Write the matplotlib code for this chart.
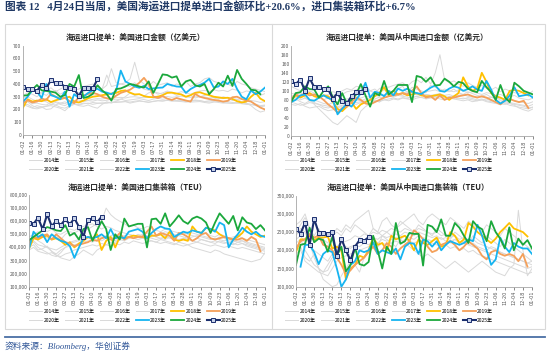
import numpy as np
import matplotlib
matplotlib.use("Agg")
import matplotlib.pyplot as plt
from matplotlib.lines import Line2D
from matplotlib.patches import Rectangle
import matplotlib.ticker as mticker

plt.rcParams['font.family'] = ['Noto Sans CJK SC', 'DejaVu Sans']
nan = np.nan

years = ["2014年", "2015年", "2016年", "2017年", "2018年", "2019年",
         "2020年", "2021年", "2022年", "2023年", "2024年", "2025年"]
xlabels = ["01-02", "01-16", "01-30", "02-13", "02-27", "03-13", "03-27", "04-10", "04-24",
           "05-08", "05-22", "06-05", "06-19", "07-03", "07-17", "07-31", "08-14", "08-28",
           "09-11", "09-25", "10-09", "10-23", "11-06", "11-20", "12-04", "12-18", "01-01"]

# ---------------- Panel 1: US import value (亿美元) ----------------
p1_2014 = [235,240,215,230,220,225,240,235,218,210, 230,245,240,250,245,255,250,248,252,258,
           255,260,262,258,265,270,262,255,265,270, 268,272,265,268,270,262,258,260,262,255,
           250,258,262,255,250,248,252,245,240,238, 242,230,235]
p1_2015 = [250,260,230,215,220,200,205,235,250,260, 245,270,255,262,270,265,275,268,272,280,
           275,282,270,275,280,285,278,270,282,288, 280,285,275,270,280,272,268,275,270,262,
           268,272,265,258,262,255,250,258,245,240, 235,225,230]
p1_2016 = [240,225,210,205,215,225,230,220,210,190, 225,240,235,245,250,240,248,252,250,255,
           260,258,262,250,258,265,262,258,262,268, 265,272,270,265,262,258,265,270,268,262,
           258,262,255,250,252,248,255,250,245,240, 230,220,228]
p1_2017 = [255,270,245,250,240,235,255,262,250,245, 265,270,275,268,272,280,285,282,290,288,
           292,295,290,298,300,295,292,298,300,305, 298,302,295,300,305,298,295,300,302,298,
           290,295,288,285,292,285,280,282,278,270, 265,255,262]
p1_2018 = [215,280,262,270,265,280,258,272,282,290, 300,262,255,270,288,300,305,312,318,325,
           330,345,350,332,318,320,305,298,296,300, 312,330,332,325,318,300,312,330,335,322,
           312,300,295,290,292,282,265,255,262,300, 330,285,265]
p1_2019 = [250,272,255,262,285,275,322,300,285,292, 265,250,298,310,322,330,320,300,288,280,
           308,330,342,355,380,410,448,400,302,290, 305,285,275,290,280,270,262,322,300,290,
           282,275,270,262,268,296,300,282,270,262, 238,215,200]
p1_2020 = [290,300,280,265,270,260,240,255,240,230, 250,245,230,225,235,220,210,240,260,250,
           265,280,300,330,310,320,305,330,340,320, 330,345,335,325,340,330,320,335,345,350,
           340,355,345,350,340,360,350,330,345,340, 320,310,325]
p1_2021 = [310,330,320,300,330,310,340,350,320,340, 360,350,330,340,355,370,380,360,470,380,
           390,400,410,440,570,430,400,380,420,390, 400,410,380,400,390,420,380,400,410,440,
           450,420,410,390,400,380,420,400,390,370, 360,350,340]
p1_2022 = [350,370,360,340,330,350,370,340,360,380, 370,350,360,380,390,400,380,360,390,520,
           410,400,390,380,410,380,360,350,340,330, 320,340,330,310,320,300,310,290,300,310,
           320,290,280,300,290,270,280,260,250,230, 200,180,190]
p1_2023 = [262,300,350,340,290,400,312,300,280,340, 222,320,290,300,330,350,362,340,332,320,
           345,505,420,400,380,370,385,360,365,370, 372,400,390,380,378,330,360,380,392,410,
           440,372,380,420,400,440,360,300,280,350, 320,340,372]
p1_2024 = [308,312,355,392,350,345,340,332,300,312, 400,380,470,290,300,322,390,350,320,270,
           360,365,380,400,392,380,372,420,330,400, 475,470,450,460,380,420,432,390,380,400,
           320,360,410,380,465,385,510,440,400,355, 350,320,nan]
p1_2025 = [379,360,360,347,392,366,431,405,405,379,371,358,306,371,366,366,436]

# ---------------- Panel 2: US import value from China (亿美元) ----------------
p2_2014 = [75,72,68,70,74,72,70,68,66,64, 65,68,72,75,74,76,78,80,78,76,
           80,82,84,82,85,83,86,88,85,84, 86,88,90,86,84,85,82,84,82,80,
           78,80,82,78,76,78,74,72,70,68, 66,62,64]
p2_2015 = [80,82,76,72,78,74,70,64,62,66, 70,72,76,78,80,78,82,84,82,86,
           84,88,86,90,88,86,84,88,90,92, 90,88,86,84,88,86,84,82,85,83,
           80,82,78,76,74,72,70,74,72,70, 68,66,70]
p2_2016 = [70,68,72,66,62,64,66,60,56,58, 62,66,70,72,70,74,76,78,76,78,
           80,78,82,80,84,82,80,84,86,82, 84,86,82,80,84,82,80,78,80,76,
           78,80,76,74,72,70,72,68,66,64, 62,60,64]
p2_2017 = [82,86,80,84,78,80,76,72,70,74, 76,80,82,84,86,84,88,86,90,88,
           92,90,94,92,90,94,96,92,94,92, 90,92,94,90,92,88,90,92,88,86,
           88,86,84,86,82,84,80,82,78,76, 74,72,76]
p2_2018 = [78,90,85,90,95,88,85,90,88,75, 60,55,65,75,60,70,75,80,88,95,
           108,90,100,92,95,90,92,95,90,88, 88,90,92,88,80,88,95,130,110,100,
           105,140,120,95,88,85,80,100,102,100, 95,90,nan]
p2_2019 = [82,92,88,95,90,92,88,80,70,62, 52,62,65,75,85,80,72,70,75,80,
           85,88,90,92,95,92,100,110,95,85, 88,80,90,80,85,85,88,90,92,88,
           85,88,85,80,75,70,80,82,78,75, 78,62,nan]
p2_2020 = [95,92,98,85,80,70,60,50,40,30, 25,35,45,38,30,55,65,72,80,75,
           85,88,92,90,95,98,100,92,96,98, 100,102,98,104,100,98,102,100,96,98,
           95,92,96,94,90,92,88,86,90,84, 82,80,84]
p2_2021 = [88,92,96,90,100,95,85,90,92,98, 95,100,105,102,110,108,112,100,95,105,
           110,108,112,115,118,110,120,125,118,130, 115,140,180,125,118,122,115,110,118,112,
           108,112,106,102,108,98,104,100,96,94, 98,92,100]
p2_2022 = [110,105,100,108,95,92,88,80,85,90, 95,92,98,100,102,105,98,100,104,96,
           102,100,98,105,110,95,108,104,100,96, 112,108,104,100,98,104,96,92,98,94,
           90,88,92,86,84,80,78,72,68,62, 58,55,60]
p2_2023 = [75,80,90,92,80,78,85,90,84,80, 48,60,72,65,80,95,118,85,98,95,
           88,100,90,105,100,105,98,95,93,100, 107,112,100,98,105,110,107,100,104,110,
           103,100,122,103,80,72,78,90,108,88, 90,92,85]
p2_2024 = [75,95,97,110,104,103,85,100,110,85, 70,95,72,80,92,115,90,65,95,90,
           122,92,100,113,113,113,75,133,130,120, 130,112,113,127,120,110,120,117,105,100,
           97,122,108,97,80,113,85,75,118,110, 100,96,92]
p2_2025 = [122,115,125,100,128,108,108,103,103,83,95,78,72,88,97,97,105]

# ---------------- Panel 3: US import containers (thousand TEU) ----------------
p3_2014 = [400,420,380,390,410,370,350,380,400,410, 420,430,440,450,440,460,450,470,460,450,
           470,460,480,470,460,470,480,470,460,470, 480,470,460,450,470,460,450,440,460,450,
           440,430,450,440,430,420,440,430,420,410, 400,390,380]
p3_2015 = [420,440,400,380,360,340,330,360,400,430, 440,450,460,470,460,480,470,490,480,470,
           490,480,470,490,480,470,480,490,480,470, 460,480,470,460,470,460,450,470,460,450,
           440,450,440,430,440,430,420,430,410,400, 390,380,370]
p3_2016 = [380,400,370,360,350,360,340,330,350,360, 380,390,400,410,420,410,430,420,440,430,
           420,440,430,450,440,430,440,450,440,430, 440,430,420,440,430,420,430,440,430,420,
           410,420,410,400,410,400,390,400,390,380, 370,360,350]
p3_2017 = [430,450,420,410,400,390,380,400,420,440, 450,460,470,480,470,490,480,470,490,500,
           480,490,500,490,480,500,490,480,490,500, 490,480,470,490,480,470,480,490,480,470,
           460,470,460,450,460,450,440,450,440,430, 420,410,400]
p3_2018 = [390,470,460,480,490,460,470,450,420,440, 400,430,450,480,470,500,380,450,480,400,
           480,470,480,490,485,480,470,490,490,500, 470,520,460,450,460,450,560,520,510,550,
           540,530,500,480,470,460,480,510,560,520, 500,480,490]
p3_2019 = [440,480,470,490,500,460,500,470,440,430, 410,420,430,440,460,450,470,480,460,470,
           510,460,480,470,480,480,520,560,490,510, 500,490,450,510,500,480,450,470,500,510,
           470,460,470,480,470,460,460,470,450,480, 460,370,nan]
p3_2020 = [460,480,450,430,400,370,340,320,310,300, 330,350,380,360,340,380,400,420,410,440,
           460,450,470,480,500,490,510,500,480,500, 520,510,500,490,510,500,490,480,500,510,
           490,480,500,490,470,480,490,470,460,450, 440,430,420]
p3_2021 = [480,500,520,490,470,500,480,460,500,520, 510,530,520,540,560,580,600,700,650,620,
           600,580,560,570,550,540,560,550,530,520, 540,530,520,510,500,520,510,500,490,480,
           470,460,480,470,450,440,460,450,430,420, 410,400,390]
p3_2022 = [560,580,600,550,520,540,510,500,520,540, 530,550,560,570,580,560,540,560,550,530,
           520,510,500,490,480,470,460,450,440,460, 450,440,430,420,410,420,400,390,380,370,
           360,380,370,350,340,330,320,310,300,290, 300,310,360]
p3_2023 = [390,520,480,500,440,500,470,450,440,410, 320,400,470,480,470,480,500,470,540,470,
           480,470,520,530,540,520,470,510,540,560, 545,540,480,500,520,510,530,520,510,550,
           540,520,590,570,400,460,500,550,520,500, 520,490,480]
p3_2024 = [455,480,505,530,555,545,530,525,570,490, 510,460,540,555,450,530,600,540,380,500,
           460,620,560,570,580,580,400,615,620,580, 660,560,600,645,600,580,620,635,620,590,
           510,590,660,620,580,640,530,630,590,580, 540,570,530]
p3_2025 = [584,579,627,538,652,563,601,571,614,576,622,558,482,609,622,591,635]

# ---------------- Panel 4: US import containers from China (thousand TEU) ----------------
p4_2014 = [200,210,180,170,190,150,140,160,180,190, 200,210,205,215,210,220,215,225,220,230,
           225,230,235,230,240,235,230,240,235,230, 225,230,235,225,220,230,225,220,215,220,
           210,205,200,210,205,195,190,185,180,175, 170,165,160]
p4_2015 = [220,230,200,180,160,150,140,145,170,190, 200,205,210,215,220,225,230,235,230,240,
           235,240,245,240,250,245,240,250,245,240, 235,240,230,235,225,230,220,225,215,210,
           205,200,195,190,185,180,175,170,165,160, 155,150,155]
p4_2016 = [190,200,170,160,150,140,135,130,150,170, 180,185,190,195,200,205,210,215,210,220,
           215,220,225,220,230,225,220,225,220,215, 220,215,210,215,205,210,200,205,195,200,
           190,185,180,175,170,165,160,155,150,145, 140,135,140]
p4_2017 = [230,240,220,210,200,190,180,170,190,210, 220,225,230,240,235,245,240,250,245,255,
           250,260,255,250,260,255,250,260,255,250, 245,250,240,245,235,240,230,235,225,230,
           220,215,210,205,200,195,190,185,180,175, 170,165,170]
p4_2018 = [195,230,230,240,228,235,235,238,205,210, 200,120,150,160,185,180,200,235,215,220,
           200,240,230,235,240,225,200,230,220,215, 225,235,210,215,250,240,220,230,275,265,
           250,240,230,220,232,250,262,275,260,255, 250,238,nan]
p4_2019 = [205,225,230,245,235,240,215,210,200,180, 160,135,145,160,170,180,195,210,190,200,
           220,210,190,205,215,225,255,245,230,210, 195,200,215,220,225,215,200,210,225,215,
           205,185,175,195,200,190,185,190,185,170, 190,155,nan]
p4_2020 = [240,260,250,220,180,150,120,110,100,105, 130,150,170,160,140,180,200,220,210,240,
           250,240,260,270,280,290,300,280,270,290, 300,290,280,270,290,280,270,260,280,270,
           260,250,270,260,250,240,260,250,240,230, 220,210,200]
p4_2021 = [250,270,290,260,230,250,220,210,240,260, 250,270,260,280,290,300,310,260,250,280,
           290,270,260,280,270,260,250,270,260,250, 240,260,250,240,230,250,240,230,220,240,
           230,220,240,230,220,210,230,220,210,200, 190,180,170]
p4_2022 = [270,280,300,260,240,260,230,220,240,250, 240,260,250,270,260,250,240,260,250,240,
           230,220,210,230,220,210,200,190,180,190, 180,170,160,150,160,170,160,150,140,150,
           160,170,160,150,140,135,130,150,160,310, 200,130,150]
p4_2023 = [nan,155,215,215,195,162,190,200,195,150, 100,120,160,170,200,195,200,222,190,200,
           195,190,205,175,210,220,218,190,230,225, 210,225,200,215,225,220,215,220,230,225,
           270,240,200,160,175,235,210,195,220,210, 205,205,190]
p4_2024 = [160,215,218,262,222,232,228,196,236,186, 210,142,160,208,162,158,168,240,200,150,
           210,190,275,218,225,248,245,245,158,270, 265,250,285,240,240,275,262,240,220,280,
           265,258,225,280,250,232,205,263,200,232, 215,228,205]
p4_2025 = [258,246,276,215,286,248,248,246,250,183,232,200,172,210,228,226,236]

panels = [
    dict(title="海运进口提单：美国进口金额（亿美元）", scale=1,
         data=[p1_2014, p1_2015, p1_2016, p1_2017, p1_2018, p1_2019, p1_2020, p1_2021, p1_2022, p1_2023, p1_2024, p1_2025],
         ylim=(0, 700), ystep=100, fmt="{:.0f}", box=(23, 45.7, 265, 135), tpos=(135, 37.7), lpos=(133, 164.8)),
    dict(title="海运进口提单：美国从中国进口金额（亿美元）", scale=1,
         data=[p2_2014, p2_2015, p2_2016, p2_2017, p2_2018, p2_2019, p2_2020, p2_2021, p2_2022, p2_2023, p2_2024, p2_2025],
         ylim=(0, 200), ystep=20, fmt="{:.0f}", box=(291, 45.7, 533, 136), tpos=(407, 37.7), lpos=(389, 164.8)),
    dict(title="海运进口提单：美国进口集装箱（TEU）", scale=1000,
         data=[p3_2014, p3_2015, p3_2016, p3_2017, p3_2018, p3_2019, p3_2020, p3_2021, p3_2022, p3_2023, p3_2024, p3_2025],
         ylim=(100000, 800000), ystep=100000, fmt="{:,.0f}", box=(29, 195, 265, 286.7), tpos=(137, 187.7), lpos=(133, 316)),
    dict(title="海运进口提单：美国从中国进口集装箱（TEU）", scale=1000,
         data=[p4_2014, p4_2015, p4_2016, p4_2017, p4_2018, p4_2019, p4_2020, p4_2021, p4_2022, p4_2023, p4_2024, p4_2025],
         ylim=(100000, 350000), ystep=50000, fmt="{:,.0f}", box=(296, 195.7, 532, 286.7), tpos=(408, 187.7), lpos=(389, 316)),
]

W, H = 550, 356
fig = plt.figure(figsize=(W / 100, H / 100), dpi=100)

GRAY = "#d9d9d9"
styles = {
    "2018年": dict(color="#FFC000", lw=1.3),
    "2019年": dict(color="#F4A05A", lw=1.3),
    "2023年": dict(color="#16B4F0", lw=1.3),
    "2024年": dict(color="#1BA83C", lw=1.3),
    "2025年": dict(color="#1B2F6E", lw=1.5, marker="s", markersize=2.8,
                   markerfacecolor="#c9d3ea", markeredgecolor="#1B2F6E", markeredgewidth=0.7),
}
order = ["2014年", "2015年", "2016年", "2017年", "2020年", "2021年", "2022年",
         "2018年", "2019年", "2023年", "2024年", "2025年"]

def frac(l, t, r, b):
    return [l / W, 1 - b / H, (r - l) / W, (b - t) / H]

for p in panels:
    ax = fig.add_axes(frac(*p["box"]))
    series = dict(zip(years, p["data"]))
    handles = {}
    for y in order:
        vals = np.array(series[y], dtype=float) * p["scale"]
        x = np.arange(len(vals))
        st = styles.get(y, dict(color=GRAY, lw=0.7))
        ln, = ax.plot(x, vals, solid_joinstyle="round", **st)
        handles[y] = ln
    ax.set_xlim(0, 52)
    ax.set_ylim(*p["ylim"])
    ax.set_yticks(np.arange(p["ylim"][0], p["ylim"][1] + 1, p["ystep"]))
    ax.yaxis.set_major_formatter(mticker.FuncFormatter(lambda v, pos, f=p["fmt"]: f.format(v)))
    ax.set_xticks(np.arange(0, 53, 2))
    ax.set_xticklabels(xlabels, rotation=90, fontfamily="DejaVu Sans")
    for s in ["top", "right"]:
        ax.spines[s].set_visible(False)
    for s in ["left", "bottom"]:
        ax.spines[s].set_color("#a6a6a6")
        ax.spines[s].set_linewidth(0.6)
    ax.tick_params(axis="both", labelsize=3.6, colors="#595959", length=1.8, width=0.5, pad=1.2)
    ax.tick_params(axis="y", length=0)
    ax.patch.set_alpha(0)
    fig.text(p["tpos"][0] / W, 1 - p["tpos"][1] / H, p["title"], ha="center", va="center",
             fontsize=5.6, color="#262626", fontweight="bold")
    # legend, row-major: first row 2014-2019, second row 2020-2025
    row1 = years[:6]
    row2 = years[6:]
    hs, ls = [], []
    for a, b in zip(row1, row2):
        hs += [handles[a], handles[b]]
        ls += [a, b]
    fig.legend(hs, ls, loc="center", bbox_to_anchor=(p["lpos"][0] / W, 1 - p["lpos"][1] / H),
               ncol=6, frameon=False, fontsize=3.6, handlelength=2.6, handletextpad=0.3,
               columnspacing=1.0, labelspacing=0.8, borderpad=0)

# outer frame and divider
fig.patches.append(Rectangle((5 / W, 1 - 329 / H), 540 / W, (329 - 24) / H, transform=fig.transFigure,
                             fill=False, edgecolor="#d9d9d9", lw=0.8))
fig.add_artist(Line2D([272 / W, 272 / W], [1 - 329 / H, 1 - 24 / H], transform=fig.transFigure,
                      color="#d9d9d9", lw=0.8))
# blue separator
fig.add_artist(Line2D([5 / W, 545 / W], [1 - 337 / H, 1 - 337 / H], transform=fig.transFigure,
                      color="#4a6fa5", lw=1.3))

fig.text(5 / W, 1 - 7 / H, "图表 12   4月24日当周，美国海运进口提单进口金额环比+20.6%，进口集装箱环比+6.7%",
         ha="left", va="center", fontsize=7.7, color="#1F3864", fontweight="bold",
         family=["Liberation Serif", "Noto Sans CJK SC"])
fig.text(5 / W, 1 - 346 / H, "资料来源：Bloomberg，华创证券", ha="left", va="center",
         fontsize=6.3, color="#2F5597", style="italic",
         family=["Liberation Serif", "Noto Sans CJK SC"])

fig.savefig("out.png", dpi=100)
